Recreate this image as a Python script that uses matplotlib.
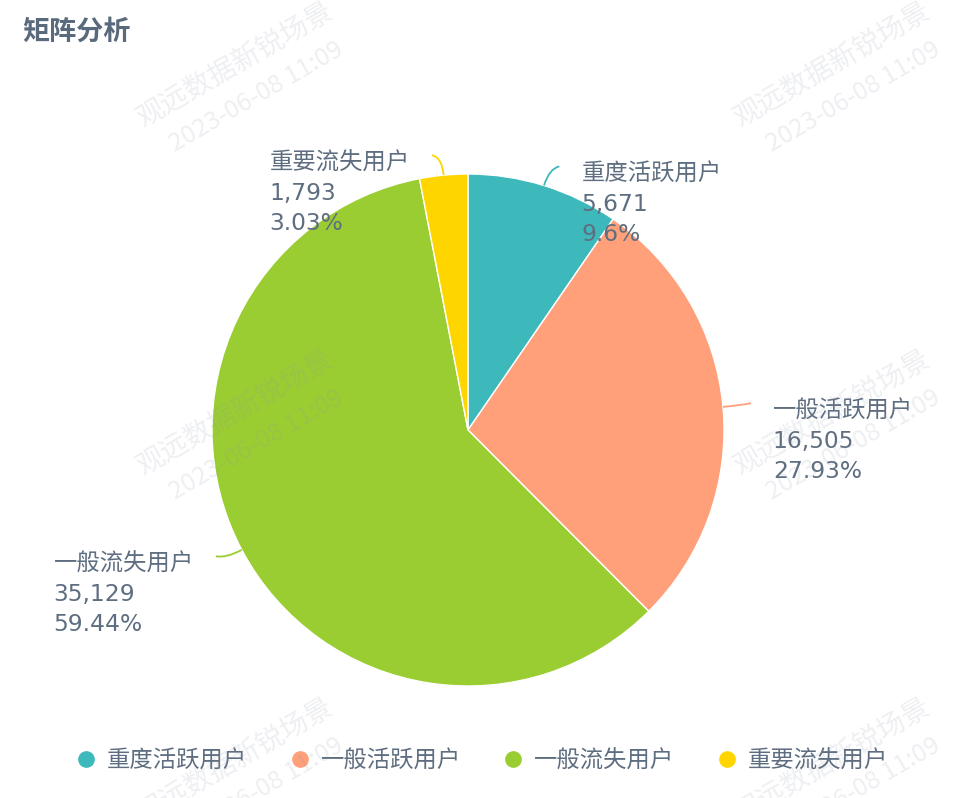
import numpy as np
import matplotlib
matplotlib.use("Agg")
import matplotlib.pyplot as plt
from matplotlib.path import Path
from matplotlib.patches import PathPatch
from matplotlib.lines import Line2D

plt.rcParams['font.family'] = ['DejaVu Sans', 'Noto Sans CJK SC']

# DATA
categories = ["重度活跃用户", "一般活跃用户", "一般流失用户", "重要流失用户"]
counts = [5671, 16505, 35129, 1793]
percent_labels = ["9.6%", "27.93%", "59.44%", "3.03%"]
colors = ["#3EB9BB", "#FFA07A", "#9ACD32", "#FFD500"]

title = "矩阵分析"
watermark_name = "观远数据新锐场景"
watermark_time = "2023-06-08 11:09"

TEXT_COLOR = "#5E6E80"
W, H = 970, 798

fig = plt.figure(figsize=(W / 100, H / 100), dpi=100)
ax = fig.add_axes([0, 0, 1, 1])

# pie in pixel-like coordinates (y measured from bottom)
cx, cy, R = 468, H - 430, 256
wedges, _ = ax.pie(counts, colors=colors, startangle=90, counterclock=False,
                   center=(cx, cy), radius=R,
                   wedgeprops=dict(edgecolor="white", linewidth=1))
ax.set_xlim(0, W)
ax.set_ylim(0, H)
ax.set_aspect("equal")
ax.axis("off")

# leader lines + labels (echarts style: radial segment then short horizontal)
len1, len2, gap = 18, 10, 22
for w, cat, n, pct, col in zip(wedges, categories, counts, percent_labels, colors):
	mid = np.deg2rad((w.theta1 + w.theta2) / 2)
	dx, dy = np.cos(mid), np.sin(mid)
	p0 = (cx + R * dx, cy + R * dy)
	p1 = (cx + (R + len1) * dx, cy + (R + len1) * dy)
	side = 1 if dx >= 0 else -1
	p2 = (p1[0] + side * len2, p1[1] + 2)
	path = Path([p0, p1, p2], [Path.MOVETO, Path.CURVE3, Path.CURVE3])
	ax.add_patch(PathPatch(path, fill=False, edgecolor=col, linewidth=1.3))
	label = "{}\n{:,}\n{}".format(cat, n, pct)
	tx = p2[0] + side * gap
	ax.text(tx, p2[1] - 38, label, ha="left" if side > 0 else "right",
			va="center", multialignment="left", fontsize=16.8,
			color=TEXT_COLOR, linespacing=1.4)

# title
fig.text(22 / W, 1 - 32 / H, title, fontsize=19.5, fontweight="bold",
		 color="#5A6A7D", ha="left", va="center",
		 family=["Noto Sans CJK SC"])

# legend
handles = [Line2D([], [], marker="o", linestyle="none", markersize=11,
				  markerfacecolor=c, markeredgecolor=c) for c in colors]
leg = fig.legend(handles, categories, loc="center", ncol=4, frameon=False,
				 bbox_to_anchor=(483 / W, 1 - 761 / H), fontsize=16.8,
				 handlelength=0.7, handletextpad=0.55, columnspacing=1.9,
				 labelcolor=TEXT_COLOR)

# watermarks
for wx in (235, 832):
	for wy in (65, 413, 761):
		fig.text(wx / W, 1 - wy / H, watermark_name, rotation=30,
				 rotation_mode="anchor", ha="center", va="center",
				 fontsize=20, color="#8C95A8", alpha=0.15,
				 family=["Noto Sans CJK SC"], zorder=10)
		fig.text((wx + 21) / W, 1 - (wy + 32) / H, watermark_time, rotation=30,
				 rotation_mode="anchor", ha="center", va="center",
				 fontsize=18, color="#8C95A8", alpha=0.15,
				 family=["Noto Sans CJK SC"], zorder=10)

plt.savefig("out.png", dpi=100, facecolor="white")
